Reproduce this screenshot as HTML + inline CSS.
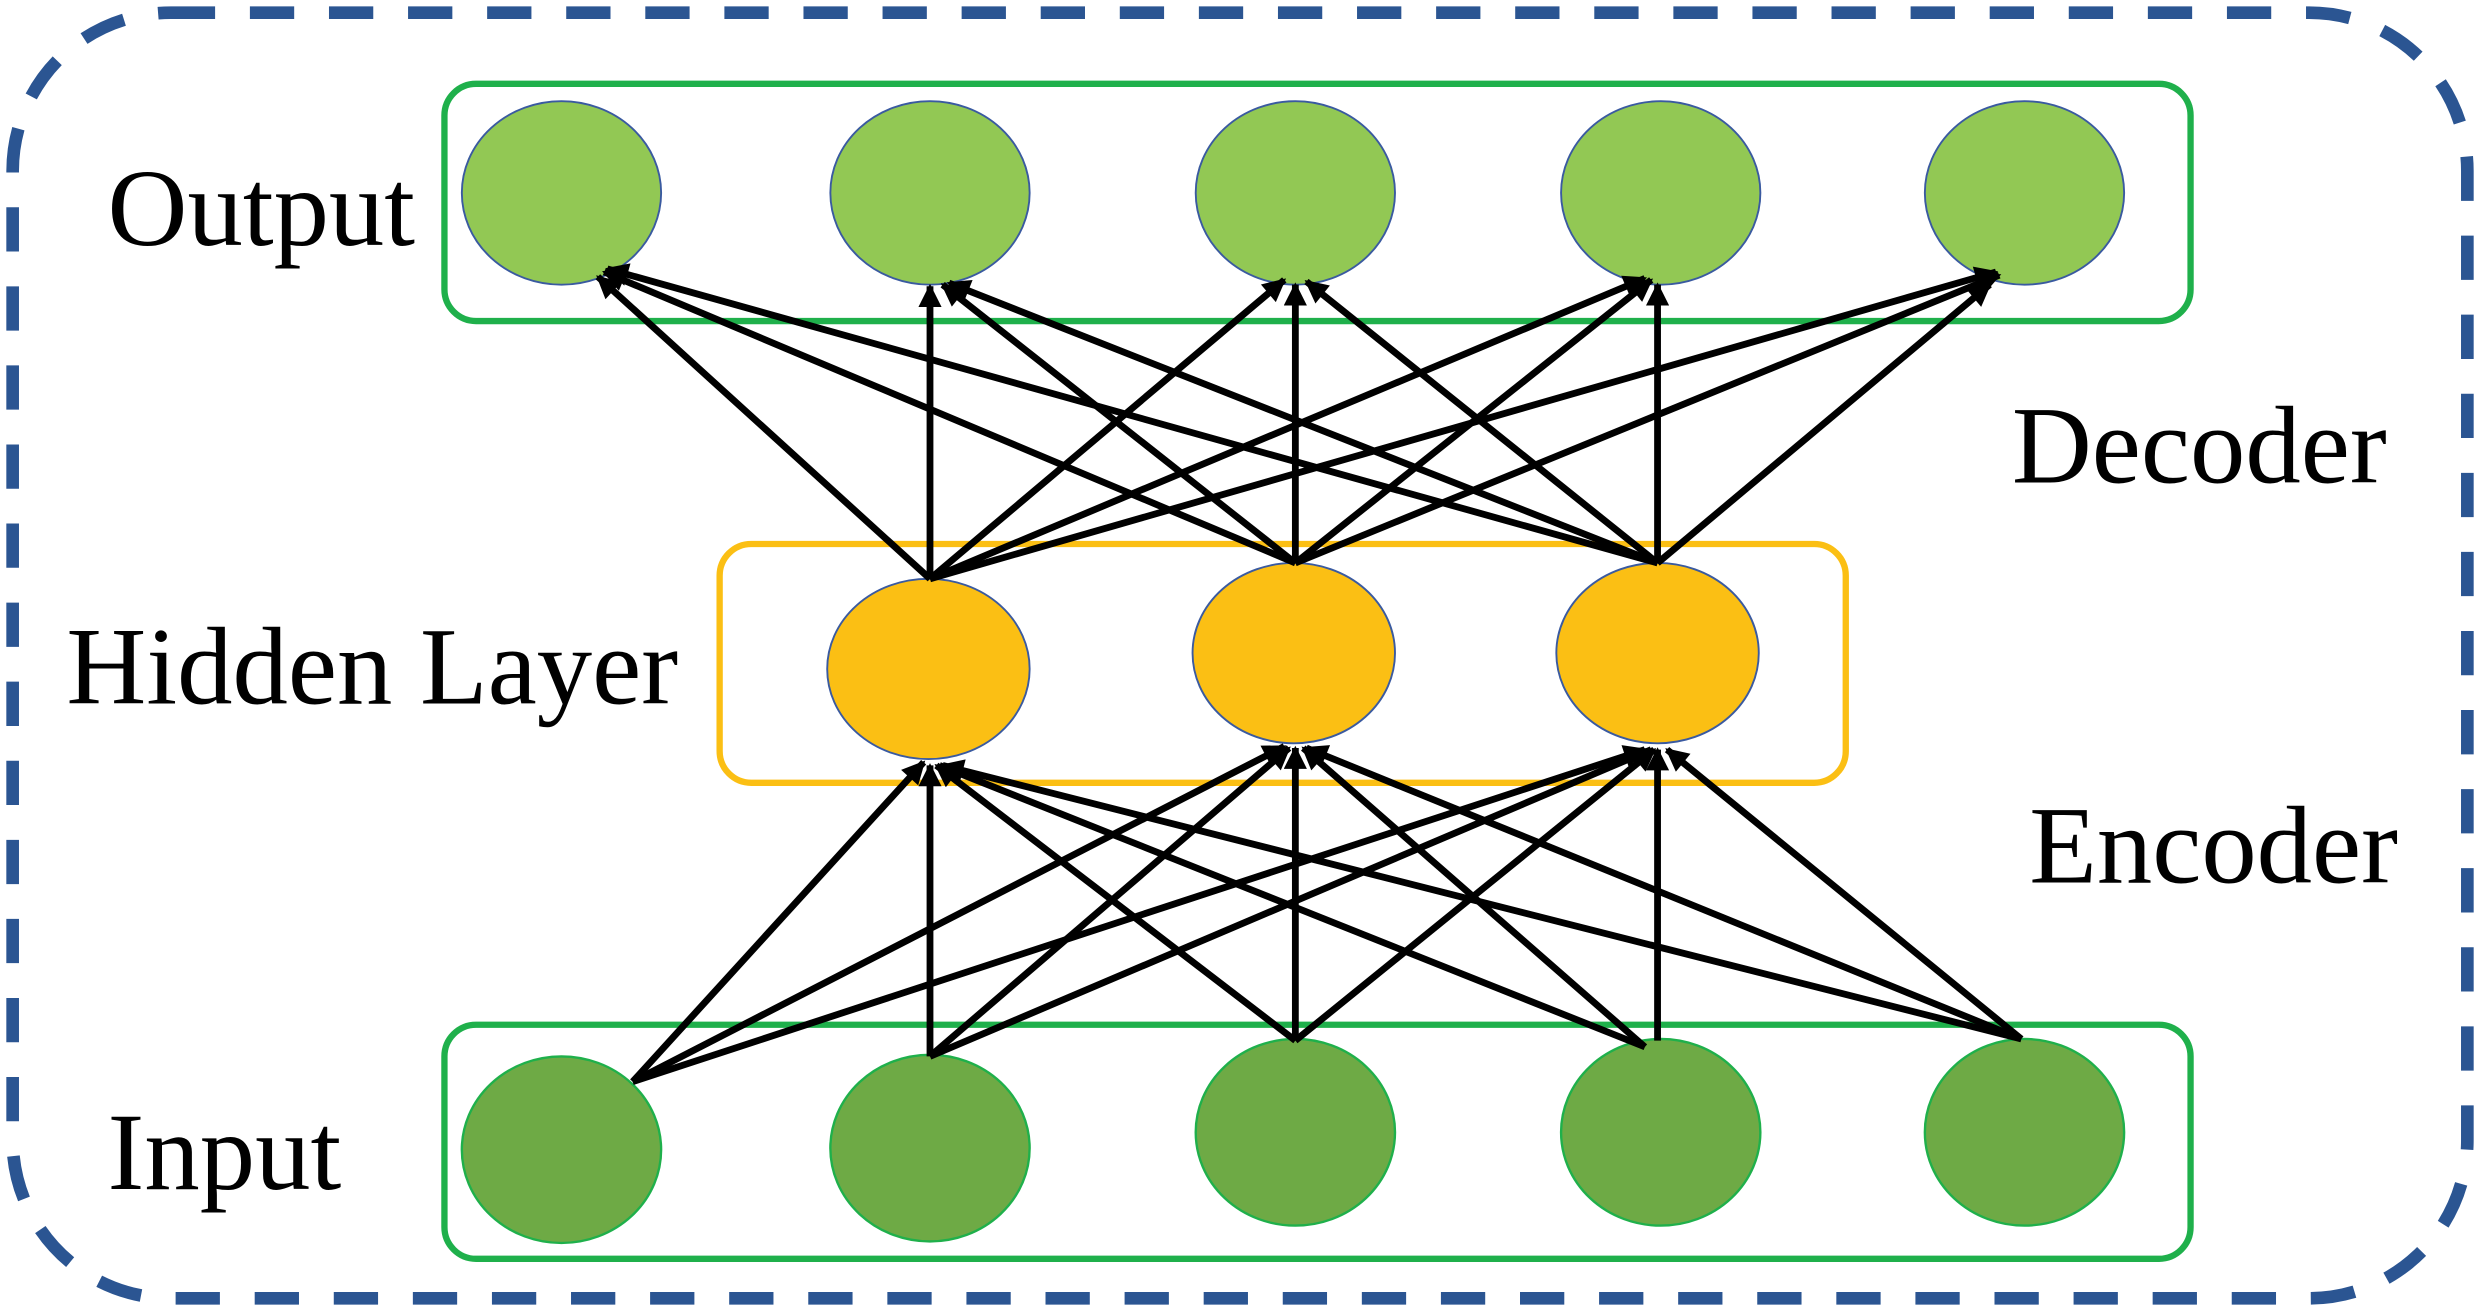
<!DOCTYPE html>
<html><head><meta charset="utf-8"><style>
html,body{margin:0;padding:0;background:#fff;}
svg{display:block;}
text{font-family:"Liberation Serif",serif;fill:#000;}
</style></head><body>
<svg width="2480" height="1311" viewBox="0 0 1568 829" preserveAspectRatio="none" xmlns="http://www.w3.org/2000/svg">
<defs>
<marker id="a" viewBox="0 0 10 10" refX="9" refY="5" markerWidth="3.8" markerHeight="3.4" orient="auto" markerUnits="strokeWidth">
<path d="M0,0 L10,5 L0,10 z" fill="#000"/></marker>
</defs>
<rect x="8" y="8" width="1552" height="813" rx="100" fill="none" stroke="#2b5592" stroke-width="8" stroke-dasharray="28,22"/>
<rect x="281" y="53" width="1104" height="150" rx="20" fill="none" stroke="#1fb04b" stroke-width="4"/>
<rect x="455" y="344" width="712" height="151" rx="20" fill="none" stroke="#fbbf14" stroke-width="4"/>
<rect x="281" y="648" width="1104" height="148" rx="20" fill="none" stroke="#1fb04b" stroke-width="4"/>
<g fill="#92c854" stroke="#3a5aa0" stroke-width="1.2">
<ellipse cx="355" cy="122" rx="63" ry="58"/><ellipse cx="588" cy="122" rx="63" ry="58"/><ellipse cx="819" cy="122" rx="63" ry="58"/><ellipse cx="1050" cy="122" rx="63" ry="58"/><ellipse cx="1280" cy="122" rx="63" ry="58"/>
</g>
<g fill="#fbbf14" stroke="#3a5aa0" stroke-width="1.2">
<ellipse cx="587" cy="423" rx="64" ry="57"/><ellipse cx="818" cy="413" rx="64" ry="57"/><ellipse cx="1048" cy="413" rx="64" ry="57"/>
</g>
<g fill="#6eaa45" stroke="#1fb04b" stroke-width="1.5">
<ellipse cx="355" cy="727" rx="63" ry="59"/><ellipse cx="588" cy="726" rx="63" ry="59"/><ellipse cx="819" cy="716" rx="63" ry="59"/><ellipse cx="1050" cy="716" rx="63" ry="59"/><ellipse cx="1280" cy="716" rx="63" ry="59"/>
</g>
<g stroke="#000" stroke-width="4.3" marker-end="url(#a)" fill="none">
<line x1="588" y1="366" x2="378" y2="175"/><line x1="588" y1="366" x2="588" y2="181"/><line x1="588" y1="366" x2="812" y2="177"/><line x1="588" y1="366" x2="1040" y2="176"/><line x1="588" y1="366" x2="1262" y2="172"/>
<line x1="819" y1="356" x2="382" y2="172"/><line x1="819" y1="356" x2="596" y2="180"/><line x1="819" y1="356" x2="819" y2="180"/><line x1="819" y1="356" x2="1044" y2="177"/><line x1="819" y1="356" x2="1264" y2="174"/>
<line x1="1048" y1="356" x2="384" y2="170"/><line x1="1048" y1="356" x2="600" y2="179"/><line x1="1048" y1="356" x2="826" y2="178"/><line x1="1048" y1="356" x2="1048" y2="180"/><line x1="1048" y1="356" x2="1258" y2="180"/>
<line x1="400" y1="684" x2="584" y2="482"/><line x1="400" y1="684" x2="812" y2="472"/><line x1="400" y1="684" x2="1040" y2="474"/>
<line x1="588" y1="668" x2="588" y2="484"/><line x1="588" y1="668" x2="815" y2="473"/><line x1="588" y1="668" x2="1044" y2="474"/>
<line x1="819" y1="658" x2="592" y2="484"/><line x1="819" y1="658" x2="819" y2="473"/><line x1="819" y1="658" x2="1046" y2="474"/>
<line x1="1040" y1="662" x2="594" y2="484"/><line x1="1040" y1="662" x2="824" y2="473"/><line x1="1048" y1="658" x2="1048" y2="474"/>
<line x1="1278" y1="657" x2="596" y2="484"/><line x1="1278" y1="657" x2="826" y2="473"/><line x1="1278" y1="657" x2="1054" y2="474"/>
</g>
<g font-size="70">
<text x="68" y="155">Output</text>
<text x="42" y="445">Hidden Layer</text>
<text x="1272" y="305">Decoder</text>
<text x="1283" y="558">Encoder</text>
<text x="68" y="752">Input</text>
</g>
</svg>
</body></html>
